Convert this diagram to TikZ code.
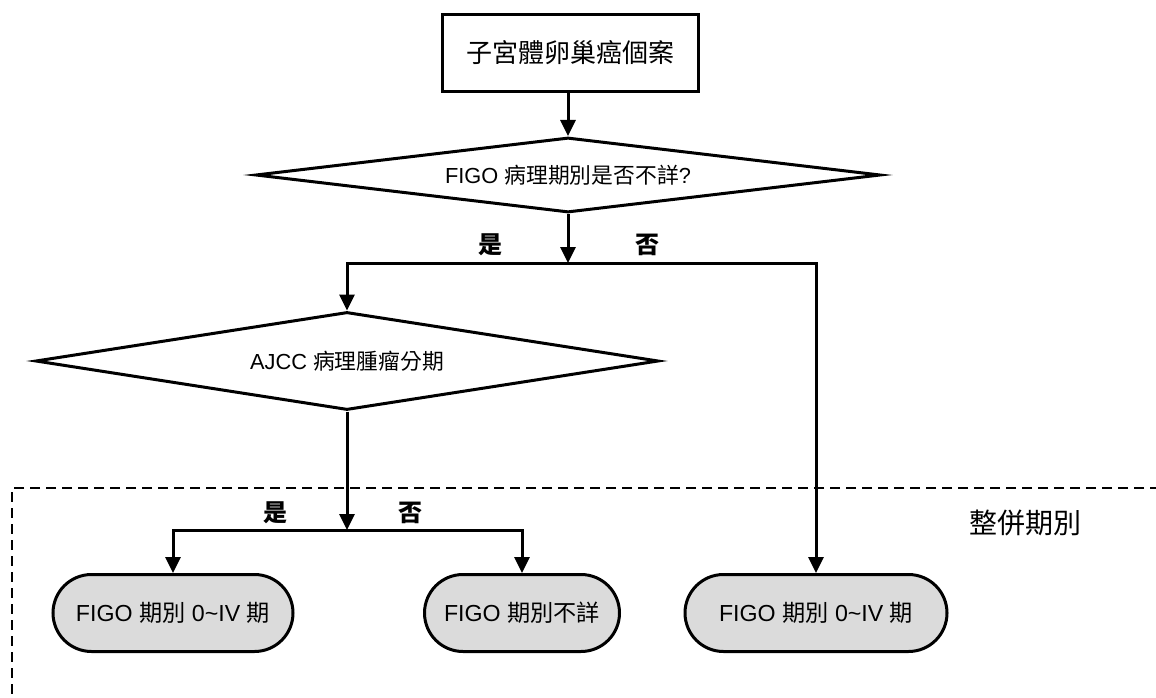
\documentclass[tikz,border=0pt]{standalone}
\usepackage{fontspec}
\setmainfont{Liberation Sans}
\newfontfamily\cjk{Noto Sans CJK TC}
\usetikzlibrary{shapes.geometric,shapes.misc,arrows.meta}
\begin{document}
\begin{tikzpicture}[x=1pt,y=-1pt,
  line width=3pt,
  arr/.style={-{Triangle[width=15pt,length=16pt]}, line width=3pt},
  startbox/.style={draw, rectangle, minimum width=256pt, minimum height=77pt, inner sep=0pt, font=\fontsize{26}{30}\selectfont},
  decide/.style={draw, diamond, inner sep=0pt, font=\fontsize{21.8}{25}\selectfont},
  term/.style={draw, rounded rectangle, fill=black!14, minimum height=77pt, inner sep=0pt, font=\fontsize{23.2}{27}\selectfont},
  lbl/.style={font=\fontsize{24}{28}\selectfont\bfseries, inner sep=0pt},
  frame/.style={dashed, line width=2pt, dash pattern=on 10pt off 6pt}
]
\useasboundingbox (0,0) rectangle (1156,698);

\node[startbox] (start) at (570,53) {\cjk 子宮體卵巢癌個案};
\node[decide, aspect=8.33, minimum width=625pt, minimum height=75pt] (d1) at (568,175) {FIGO {\cjk 病理期別是否不詳}?};
\node[decide, aspect=6.36, minimum width=623pt, minimum height=98pt] (d2) at (347,361) {AJCC {\cjk 病理腫瘤分期}};
\node[term, minimum width=240pt] (t1) at (173,613) {FIGO {\cjk 期別} 0\char`~IV {\cjk 期}};
\node[term, minimum width=195pt] (t2) at (522,613) {FIGO {\cjk 期別不詳}};
\node[term, minimum width=262pt] (t3) at (816,613) {FIGO {\cjk 期別} 0\char`~IV {\cjk 期}};

\coordinate (j1) at (568,263);
\coordinate (j2) at (347,530);

\draw[arr] (start.south -| d1.north) -- (d1.north);
\draw[arr] (d1.south) -- (j1);
\draw[arr] (j1) -| (d2.north);
\draw[arr] (j1) -| (t3.north);
\draw[arr] (d2.south) -- (j2);
\draw[arr] (j2) -| (t1.north);
\draw[arr] (j2) -| (t2.north);

\node[lbl] (yes1) at (490,245) {\cjk 是};
\node[lbl] (no1) at (647,245) {\cjk 否};
\node[lbl] (yes2) at (275,513) {\cjk 是};
\node[lbl] (no2) at (410,513) {\cjk 否};

\draw[frame] (1160,488) -- (12,488) -- (12,702);
\node[font=\fontsize{28}{32}\selectfont, inner sep=0pt] (merge) at (1025,523) {\cjk 整併期別};
\end{tikzpicture}
\end{document}
